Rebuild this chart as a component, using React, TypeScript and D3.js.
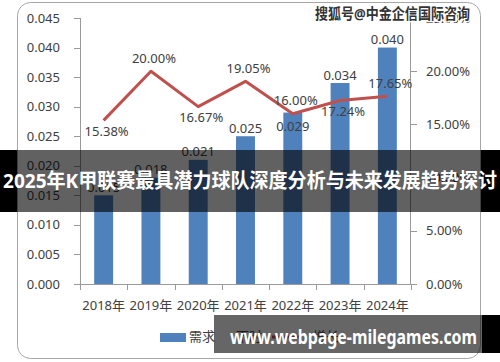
import React from 'react';
import { scaleBand, scaleLinear, line } from 'd3';

const YEARS = ['2018年', '2019年', '2020年', '2021年', '2022年', '2023年', '2024年'];
const DEMAND = [0.015, 0.018, 0.021, 0.025, 0.029, 0.034, 0.040];
const DEMAND_LABELS = ['0.015', '0.018', '0.021', '0.025', '0.029', '0.034', '0.040'];
const DEMAND_LABEL_SIDE = ['above', 'above', 'above', 'above', 'inside', 'above', 'above'];
const GROWTH = [15.38, 20.0, 16.67, 19.05, 16.0, 17.24, 17.65];
const GROWTH_LABEL_SIDE = ['below', 'above', 'below', 'above', 'above', 'below', 'above'];
const LEFT_TICKS = [0, 0.005, 0.01, 0.015, 0.02, 0.025, 0.03, 0.035, 0.04, 0.045];
const RIGHT_TICKS = [0, 5, 10, 15, 20, 25];
const LEGEND = ['需求', '下时', '增长'];

const TITLE = '2025年K甲联赛最具潜力球队深度分析与未来发展趋势探讨';
const WATERMARK = '搜狐号@中金企信国际咨询';
const SITE = 'www.webpage-milegames.com';

const W = 500;
const H = 362;
const FONT = '"Noto Sans", "Noto Sans CJK SC", sans-serif';
const TEXT = '#404040';
const AXIS = '#9a9a9a';
const BLUE = '#4f81bd';
const RED = '#c0504d';

export default function App() {
  const x = scaleBand().domain(YEARS).range([80, 411]).paddingInner(0.6).paddingOuter(0.3);
  const bandStep = x.step();
  const yL = scaleLinear().domain([0, 0.045]).range([284, 18]);
  const yR = scaleLinear().domain([0, 25]).range([284, 18]);
  const cx = (d: string) => (x(d) as number) + x.bandwidth() / 2;

  const path = line<number>()
    .x((_, i) => cx(YEARS[i]))
    .y(d => yR(d))(GROWTH);

  const bounds = YEARS.map((_, i) => 80 + i * bandStep).concat([411]);

  return (
    <svg width={W} height={H} style={{ position: 'absolute', left: 0, top: 0, fontFamily: FONT }}>
      <rect x={0} y={0} width={W} height={H} fill="#fff" />
      <rect x={17.5} y={2.5} width={463} height={356} rx={13} fill="#fff" stroke="#a6a6a6" />

      {/* bars */}
      {DEMAND.map((d, i) => (
        <rect key={YEARS[i]} x={x(YEARS[i])} y={yL(d)} width={x.bandwidth()} height={yL(0) - yL(d)} fill={BLUE} />
      ))}

      {/* left axis */}
      <line x1={80.5} x2={80.5} y1={yL(0.045)} y2={yL(0)} stroke={AXIS} />
      {LEFT_TICKS.map(t => (
        <g key={t}>
          <line x1={74} x2={80} y1={Math.round(yL(t)) + 0.5} y2={Math.round(yL(t)) + 0.5} stroke={AXIS} />
          <text x={60} y={yL(t)} dy="0.35em" textAnchor="end" fontSize={13} fill={TEXT}>{t.toFixed(3)}</text>
        </g>
      ))}

      {/* right axis */}
      <line x1={410.5} x2={410.5} y1={yR(25)} y2={yR(0)} stroke={AXIS} />
      {RIGHT_TICKS.map(t => (
        <g key={t}>
          <line x1={411} x2={417} y1={Math.round(yR(t)) + 0.5} y2={Math.round(yR(t)) + 0.5} stroke={AXIS} />
          <text x={426} y={yR(t)} dy="0.35em" fontSize={13} fill={TEXT}>{t.toFixed(2)}%</text>
        </g>
      ))}

      {/* bottom axis */}
      <line x1={80} x2={411} y1={284.5} y2={284.5} stroke={AXIS} />
      {bounds.map((b, i) => (
        <line key={i} x1={Math.round(b) + 0.5} x2={Math.round(b) + 0.5} y1={284} y2={290} stroke={AXIS} />
      ))}
      {YEARS.map(d => (
        <text key={d} x={cx(d)} y={305} dy="0.35em" textAnchor="middle" fontSize={13} fill={TEXT}>{d}</text>
      ))}

      {/* bar labels */}
      {DEMAND.map((d, i) => (
        <text key={i} x={cx(YEARS[i])} y={yL(d) + (DEMAND_LABEL_SIDE[i] === 'inside' ? 14 : -8)} dy="0.35em"
          textAnchor="middle" fontSize={13} fill={TEXT}>{DEMAND_LABELS[i]}</text>
      ))}

      {/* growth line */}
      <path d={path ?? ''} fill="none" stroke={RED} strokeWidth={3} strokeLinejoin="round" />
      {GROWTH.map((g, i) => (
        <text key={i} x={cx(YEARS[i]) + 3} y={yR(g) + (GROWTH_LABEL_SIDE[i] === 'above' ? -13 : 11)} dy="0.35em"
          textAnchor="middle" fontSize={13} fill={TEXT}>{g.toFixed(2)}%</text>
      ))}

      {/* legend */}
      <rect x={160} y={333} width={26} height={9} fill={BLUE} />
      <text x={189} y={336} dy="0.35em" fontSize={13} fill={TEXT}>{LEGEND[0]}</text>
      <text x={236} y={336} dy="0.35em" fontSize={13} fill={TEXT}>{LEGEND[1]}</text>
      <line x1={272} x2={300} y1={337} y2={337} stroke={RED} strokeWidth={3} />
      <text x={313} y={336} dy="0.35em" fontSize={13} fill={TEXT}>{LEGEND[2]}</text>

      {/* watermark */}
      <text x={315} y={14} dy="0.35em" fontSize={15} fontWeight="bold" fill="#333" stroke="#fff" strokeWidth={2.5}
        paintOrder="stroke" textLength={155} lengthAdjust="spacingAndGlyphs">{WATERMARK}</text>

      {/* title banner: opaque black at the edges, translucent over the chart */}
      <rect x={0} y={150} width={17} height={62} fill="#000" />
      <rect x={481} y={150} width={19} height={62} fill="#000" />
      <rect x={17} y={150} width={464} height={62} fill="#000" fillOpacity={0.62} />
      <text x={W / 2} y={181} dy="0.35em" textAnchor="middle" fontSize={20} fontWeight="bold" fill="#fff"
        textLength={494} lengthAdjust="spacingAndGlyphs">{TITLE}</text>

      {/* site banner */}
      <rect x={482} y={315} width={18} height={38} fill="#000" />
      <rect x={214} y={315} width={268} height={38} fill="#000" fillOpacity={0.6} />
      <text x={230} y={337} dy="0.35em" fontSize={19} fontWeight="bold" fill="#fff"
        textLength={247} lengthAdjust="spacingAndGlyphs">{SITE}</text>
    </svg>
  );
}
